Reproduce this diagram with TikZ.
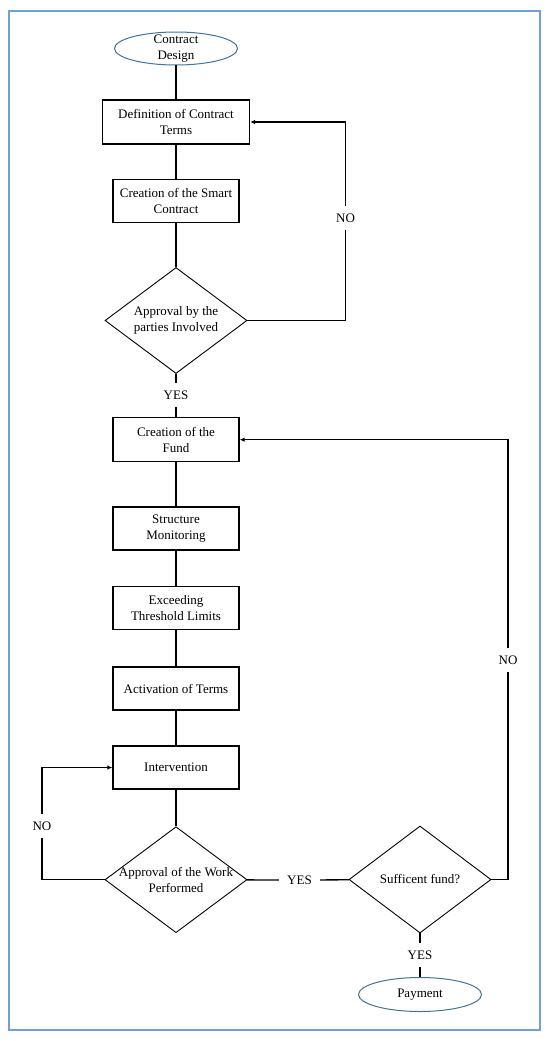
\documentclass[tikz,border=0pt]{standalone}
\usepackage{fontspec}
\setmainfont{Liberation Serif}
\usetikzlibrary{shapes.geometric,arrows.meta}
\definecolor{framecol}{HTML}{6FA0DC}
\definecolor{ellcol}{HTML}{41719C}
\begin{document}
\begin{tikzpicture}[x=1pt,y=-1pt,
  every node/.style={font=\fontsize{13}{15.7}\selectfont, align=center},
  box/.style={draw, line width=1.3pt, minimum width=126pt, minimum height=43pt, inner sep=0pt},
  dia/.style={draw, diamond, line width=0.9pt, minimum width=142pt, minimum height=106pt, inner sep=0pt},
  term/.style={draw=ellcol, ellipse, line width=1pt, minimum width=123pt, minimum height=33pt, inner sep=0pt},
  lab/.style={inner sep=0pt, minimum height=24pt},
  conn/.style={line width=1.3pt},
  arr/.style={conn, -{Latex[length=5pt,width=4.5pt]}}
]
\useasboundingbox (0,0) rectangle (550,1041);
\draw[framecol, line width=2pt] (9,11.5) rectangle (540,1030);

\node[term, label={center:{Contract\\Design}}] (start) at (176,48.5) {};
\node[box, minimum width=147pt, minimum height=44pt] (b1) at (176,122) {Definition of Contract\\Terms};
\node[box] (b2) at (176,201) {Creation of the Smart\\Contract};
\node[dia, label={center:{Approval by the\\parties Involved}}] (d1) at (176,320.5) {};
\node[lab] (y1) at (176,395) {YES};
\node[box, minimum height=44pt] (b3) at (176,439.7) {Creation of the\\Fund};
\node[box] (b4) at (176,528.5) {Structure\\Monitoring};
\node[box] (b5) at (176,608.3) {Exceeding\\Threshold Limits};
\node[box] (b6) at (176,688.5) {Activation of Terms};
\node[box] (b7) at (176,767.5) {Intervention};
\node[dia, label={center:{Approval of the Work\\Performed}}] (d2) at (176,879.7) {};
\node[dia, minimum height=107pt, label={center:{Sufficent fund?}}] (d3) at (420,879.5) {};
\node[term, minimum height=34pt, label={center:{Payment}}] (end) at (420,994.5) {};

\node[lab] (n1) at (345.5,218) {NO};
\node[lab] (n2) at (508,660) {NO};
\node[lab] (n3) at (42,826) {NO};
\node[lab, minimum width=41pt] (y2) at (299.5,880) {YES};
\node[lab] (y3) at (420,955) {YES};

\draw[conn] (start) -- (b1);
\draw[conn] (b1) -- (b2);
\draw[conn] (b2) -- (d1);
\draw[conn] (d1) -- (y1);
\draw[conn] (y1) -- (b3);
\draw[conn] (b3) -- (b4);
\draw[conn] (b4) -- (b5);
\draw[conn] (b5) -- (b6);
\draw[conn] (b6) -- (b7);
\draw[conn] (b7) -- (d2);
\draw[conn] (d2) -- (y2);
\draw[conn] (y2) -- (d3);
\draw[conn] (d3) -- (y3);
\draw[conn] (y3) -- (end);

\draw[conn] (d1.east) -| (n1);
\draw[arr] (n1) |- (b1.east);
\draw[conn] (d3.east) -| (n2);
\draw[arr] (n2) |- (b3.east);
\draw[conn] (d2.west) -| (n3);
\draw[arr] (n3) |- (b7.west);
\end{tikzpicture}
\end{document}
